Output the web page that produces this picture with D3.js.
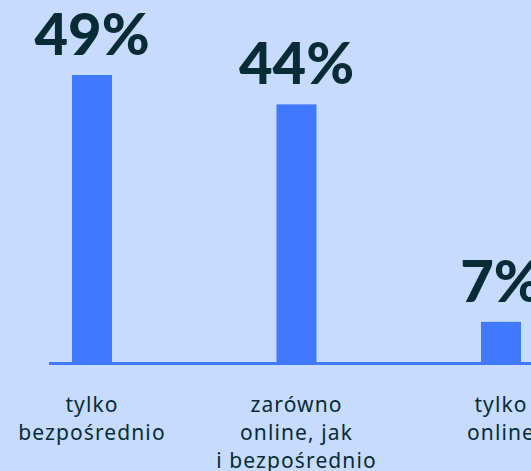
<!DOCTYPE html>
<meta charset="utf-8">
<script src="https://d3js.org/d3.v7.min.js"></script>
<style>
  body { margin: 0; background: #c6dbfd; }
</style>
<div id="my_dataviz"></div>
<script>

// data
var categories = ["tylko bezpośrednio", "zarówno online, jak i bezpośrednio", "tylko online"];
var labelLines = [["tylko", "bezpośrednio"], ["zarówno", "online, jak", "i bezpośrednio"], ["tylko", "online"]];
var values = [49, 44, 7];

var width = 531, height = 471;
var baseY = 363;

var svg = d3.select("#my_dataviz")
    .append("svg")
    .attr("width", width)
    .attr("height", height)
    .style("display", "block");

svg.append("rect")
    .attr("width", width)
    .attr("height", height)
    .attr("fill", "#c6dbfd");

// x scale (chart runs past the right edge, as in the picture)
var x = d3.scalePoint()
    .domain(categories)
    .range([92, 501]);

var y = d3.scaleLinear()
    .domain([0, 49])
    .range([baseY, 75]);

var barW = 40;

// bars
svg.selectAll(".bar")
    .data(values)
    .enter().append("rect")
    .attr("class", "bar")
    .attr("x", function(d, i) { return x(categories[i]) - barW / 2; })
    .attr("y", function(d) { return y(d); })
    .attr("width", barW)
    .attr("height", function(d) { return y(0) - y(d); })
    .attr("fill", "#4078fe");

// baseline
svg.append("line")
    .attr("x1", 49)
    .attr("x2", width + 10)
    .attr("y1", baseY + 0.5)
    .attr("y2", baseY + 0.5)
    .attr("stroke", "#4078fe")
    .attr("stroke-width", 3);

// value labels
svg.selectAll(".val")
    .data(values)
    .enter().append("text")
    .attr("class", "val")
    .attr("x", function(d, i) { return x(categories[i]); })
    .attr("y", function(d) { return y(d) - 20; })
    .attr("text-anchor", "middle")
    .style("font-family", "Lato, 'DejaVu Sans', sans-serif")
    .style("font-weight", 900)
    .style("font-size", "58px")
    .style("fill", "#072c36")
    .text(function(d) { return d + "%"; });

// category labels
var cat = svg.selectAll(".cat")
    .data(labelLines)
    .enter().append("text")
    .attr("class", "cat")
    .attr("text-anchor", "middle")
    .style("font-family", "'Noto Sans', sans-serif")
    .style("font-size", "21px")
    .style("letter-spacing", "1.1px")
    .style("fill", "#072c36");

cat.each(function(lines, i) {
    d3.select(this).selectAll("tspan")
        .data(lines)
        .enter().append("tspan")
        .attr("x", x(categories[i]))
        .attr("y", function(d, j) { return 412 + j * 28; })
        .text(function(d) { return d; });
});

</script>
